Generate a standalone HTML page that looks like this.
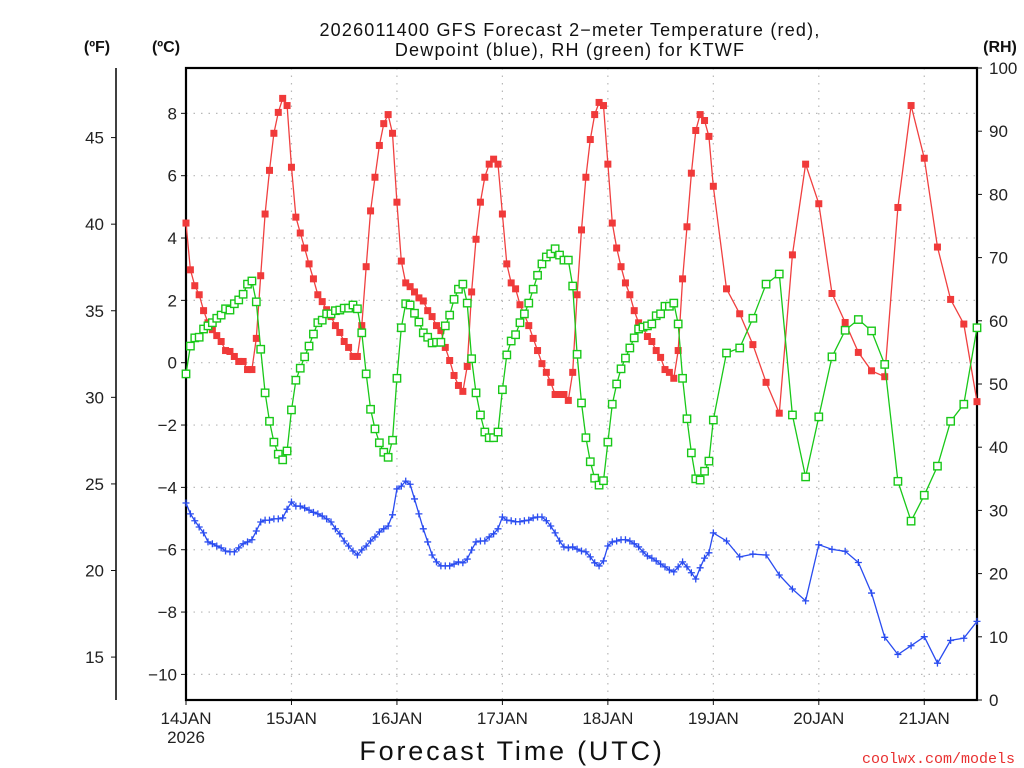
<!DOCTYPE html>
<html><head><meta charset="utf-8"><title>GFS Forecast KTWF</title>
<style>
html,body{margin:0;padding:0;background:#fff;}
svg{display:block;font-family:"Liberation Sans",sans-serif;}
</style></head>
<body>
<svg id="chart" width="1024" height="768" viewBox="0 0 1024 768" xmlns="http://www.w3.org/2000/svg">
  <text x="570" y="36" text-anchor="middle" font-size="18" letter-spacing="1.2" fill="#111">2026011400 GFS Forecast 2−meter Temperature (red),</text>
  <text x="570" y="56" text-anchor="middle" font-size="18" letter-spacing="1.2" fill="#111">Dewpoint (blue), RH (green) for KTWF</text>
  <text x="97" y="52" text-anchor="middle" font-size="16" font-weight="600" fill="#111">(ºF)</text>
  <text x="166" y="52" text-anchor="middle" font-size="16" font-weight="600" fill="#111">(ºC)</text>
  <text x="1000" y="52" text-anchor="middle" font-size="16" font-weight="600" fill="#111">(RH)</text>
  <g id="grid"></g>
  <g id="axes"></g>
  <g id="series"></g>
  <text x="512" y="760" text-anchor="middle" font-size="27" fill="#111" letter-spacing="2.8">Forecast Time (UTC)</text>
  <text x="1015" y="763" text-anchor="end" font-size="15" fill="#e83030" font-family="Liberation Mono, monospace">coolwx.com/models</text>
</svg>
<script>
var tempC = [4.48,2.98,2.47,2.18,1.67,1.28,1.06,0.87,0.68,0.39,0.36,0.2,0.04,0.04,-0.22,-0.22,0.78,2.79,4.77,6.17,7.36,8.03,8.48,8.25,6.27,
4.67,4.16,3.68,3.17,2.69,2.18,1.96,1.70,1.48,1.19,0.97,0.68,0.49,0.2,0.2,1.19,3.08,4.87,5.95,6.97,7.67,7.96,7.36,5.15,
3.26,2.56,2.44,2.27,2.08,1.98,1.67,1.48,1.19,1.03,0.49,0.07,-0.41,-0.73,-0.92,-0.12,2.27,3.96,5.15,5.95,6.37,6.53,6.37,4.77,
3.17,2.56,2.37,1.86,1.54,1.19,0.78,0.39,-0.03,-0.31,-0.63,-1.02,-1.02,-1.02,-1.21,-0.31,2.18,4.26,5.95,7.16,7.96,8.35,8.25,6.37,
4.48,3.68,3.08,2.56,2.18,1.67,1.28,1.12,0.84,0.68,0.39,0.17,-0.22,-0.31,-0.5,0.39,2.69,4.36,6.08,7.45,7.96,7.77,7.26,5.66,
2.37,1.57,0.58,-0.63,-1.62,3.46,6.37,5.1,2.22,1.29,0.33,-0.26,-0.45,4.98,8.25,6.56,3.71,2.03,1.24,-1.25];
var rhPct = [51.6,56.0,57.3,57.4,58.7,59.2,59.7,60.4,60.9,61.9,61.7,62.7,63.3,64.2,65.8,66.3,63.0,55.5,48.6,44.1,40.8,38.9,38.0,39.4,45.9,
50.6,52.5,54.3,56.0,57.9,59.7,60.1,61.1,61.1,61.6,61.7,62.0,62.0,62.5,61.9,58.1,51.6,46.0,42.9,40.7,39.2,38.4,41.1,50.9,
58.9,62.7,62.5,61.2,59.8,58.1,57.4,56.5,56.6,56.6,59.2,60.9,63.4,65.0,65.8,62.8,54.0,48.6,45.1,42.4,41.5,41.5,42.4,49.1,
54.6,56.8,57.8,59.7,61.1,62.8,65.0,67.2,69.0,70.1,70.6,71.4,70.4,69.6,69.6,65.5,54.7,47.0,41.5,37.7,35.1,34.0,34.7,40.8,
46.8,50.0,52.4,54.1,55.7,57.3,58.7,59.0,59.2,59.5,60.8,61.1,62.3,62.3,62.8,59.5,50.9,44.5,39.1,35.0,34.8,36.2,37.8,44.3,
54.9,55.7,60.4,65.8,67.4,45.1,35.3,44.8,54.3,58.5,60.2,58.4,53.1,34.6,28.3,32.4,37.0,44.1,46.8,58.9];
var dewC = [-4.5,-4.85,-5.07,-5.27,-5.46,-5.75,-5.81,-5.88,-5.94,-6.04,-6.07,-6.07,-5.94,-5.81,-5.75,-5.68,-5.4,-5.11,-5.05,-5.05,-5.01,-5.01,-4.98,-4.7,-4.47,
-4.6,-4.6,-4.66,-4.73,-4.8,-4.85,-4.92,-5.01,-5.11,-5.33,-5.49,-5.72,-5.88,-6.04,-6.17,-6.01,-5.88,-5.72,-5.59,-5.43,-5.33,-5.24,-4.88,-4.05,
-3.96,-3.8,-3.9,-4.37,-4.85,-5.33,-5.75,-6.17,-6.39,-6.52,-6.52,-6.52,-6.46,-6.39,-6.42,-6.3,-6.01,-5.75,-5.72,-5.72,-5.59,-5.49,-5.33,-4.95,
-5.05,-5.07,-5.1,-5.1,-5.07,-5.05,-4.98,-4.95,-4.95,-5.07,-5.24,-5.46,-5.72,-5.91,-5.94,-5.91,-5.98,-6.04,-6.07,-6.23,-6.42,-6.52,-6.36,-5.88,
-5.75,-5.72,-5.68,-5.68,-5.72,-5.81,-5.91,-6.07,-6.2,-6.27,-6.36,-6.46,-6.55,-6.65,-6.71,-6.55,-6.39,-6.55,-6.74,-6.94,-6.58,-6.27,-6.1,-5.46,
-5.72,-6.23,-6.14,-6.17,-6.81,-7.26,-7.64,-5.84,-5.99,-6.05,-6.41,-7.39,-8.81,-9.36,-9.08,-8.79,-9.64,-8.91,-8.84,-8.3];
var dayLabels = ["14JAN","15JAN","16JAN","17JAN","18JAN","19JAN","20JAN","21JAN"];
var celsiusTicks = [8,6,4,2,0,-2,-4,-6,-8,-10];
var fahrenheitTicks = [45,40,35,30,25,20,15];
var rhTicks = [100,90,80,70,60,50,40,30,20,10,0];

var hours = [];
for (var h = 0; h <= 120; h++) hours.push(h);
for (var h2 = 123; h2 <= 180; h2 += 3) hours.push(h2);

var NS = "http://www.w3.org/2000/svg";
var L = 186, R = 977, T = 68, B = 700;
function xPos(hr){ return L + hr * (R - L) / 180; }
function yC(c){ return 362.7 - c * 31.17; }
function yF(f){ return yC((f - 32) / 1.8); }
function yRH(r){ return B - r * (B - T) / 100; }
function mk(tag, attrs, parent){ var e = document.createElementNS(NS, tag); for (var k in attrs) e.setAttribute(k, attrs[k]); parent.appendChild(e); return e; }

var grid = document.getElementById('grid'), axes = document.getElementById('axes'), series = document.getElementById('series');

celsiusTicks.forEach(function(c){
  var y = yC(c);
  var g = mk('line', {x1:L, x2:R, y1:y, y2:y, stroke:'#b8b8b8', 'stroke-width':1.2, 'stroke-dasharray':'1.5 6'}, grid);
  
  
  var t = mk('line', {x1:L-5, x2:L, y1:y, y2:y, stroke:'#111', 'stroke-width':1}, axes);
  
  
  var lb = mk('text', {x:L-9, y:y+6, 'text-anchor':'end', 'font-size':17, fill:'#222'}, axes);
  lb.textContent = c < 0 ? '\u2212' + Math.abs(c) : String(c);
  
  
});
dayLabels.forEach(function(d, i){
  var x = xPos(i * 24);
  if (i > 0) {
    var g = mk('line', {x1:x, x2:x, y1:T, y2:B, stroke:'#b8b8b8', 'stroke-width':1.2, 'stroke-dasharray':'1.5 6'}, grid);
    
    
  }
  var t = mk('line', {x1:x, x2:x, y1:B, y2:B+5, stroke:'#111', 'stroke-width':1}, axes);
  
  
  var lb = mk('text', {x:x, y:B+24, 'text-anchor':'middle', 'font-size':17, fill:'#222'}, axes);
  lb.textContent = d;
  
  
});
var yr = mk('text', {x:L, y:B+43, 'text-anchor':'middle', 'font-size':17, fill:'#222'}, axes);
yr.textContent = '2026';



var box = mk('rect', {x:L, y:T, width:R-L, height:B-T, fill:'none', stroke:'#000', 'stroke-width':2.2}, axes);


var fax = mk('line', {x1:116, x2:116, y1:T, y2:B, stroke:'#000', 'stroke-width':1.5}, axes);


fahrenheitTicks.forEach(function(f){
  var y = yF(f);
  var t = mk('line', {x1:111, x2:116, y1:y, y2:y, stroke:'#111', 'stroke-width':1}, axes);
  
  
  var lb = mk('text', {x:104, y:y+6, 'text-anchor':'end', 'font-size':17, fill:'#222'}, axes);
  lb.textContent = String(f);
  
  
});
rhTicks.forEach(function(r){
  var y = yRH(r);
  var t = mk('line', {x1:R, x2:R+5, y1:y, y2:y, stroke:'#111', 'stroke-width':1}, axes);
  
  
  var lb = mk('text', {x:R+12, y:y+6, 'text-anchor':'start', 'font-size':17, fill:'#222'}, axes);
  lb.textContent = String(r);
  
  
});

function pts(vals, yf){ return vals.map(function(v, i){ return xPos(hours[i]).toFixed(1) + ',' + yf(v).toFixed(1); }).join(' '); }

var tl = mk('polyline', {points:pts(tempC, yC), fill:'none', stroke:'#f04040', 'stroke-width':1.3}, series);


tempC.forEach(function(v, i){
  var m = mk('rect', {x:xPos(hours[i])-3.5, y:yC(v)-3.5, width:7, height:7, fill:'#f03a3a'}, series);
  
  
});
var rl = mk('polyline', {points:pts(rhPct, yRH), fill:'none', stroke:'#19c819', 'stroke-width':1.3}, series);


rhPct.forEach(function(v, i){
  var m = mk('rect', {x:xPos(hours[i])-3.7, y:yRH(v)-3.7, width:7.4, height:7.4, fill:'#fff', stroke:'#19c819', 'stroke-width':1.4}, series);
  
  
});
var dl = mk('polyline', {points:pts(dewC, yC), fill:'none', stroke:'#2a4cf0', 'stroke-width':1.3}, series);


dewC.forEach(function(v, i){
  var x = xPos(hours[i]), y = yC(v);
  var m = mk('path', {d:'M'+(x-3.5)+','+y+'H'+(x+3.5)+'M'+x+','+(y-3.5)+'V'+(y+3.5), stroke:'#2a4cf0', 'stroke-width':1.3, fill:'none'}, series);
  
  
});
</script>
</body></html>
